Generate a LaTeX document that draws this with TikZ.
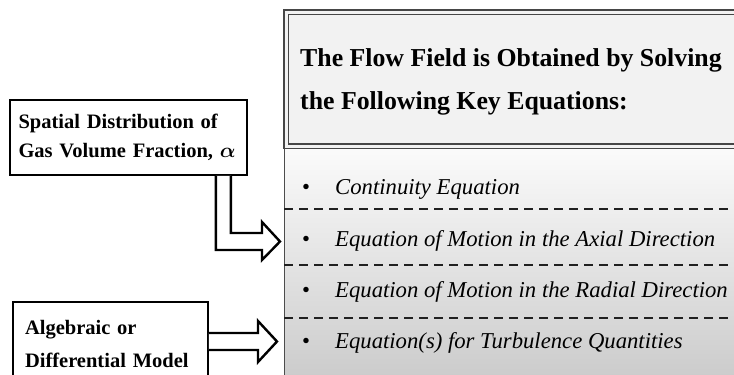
\documentclass[tikz,border=0pt]{standalone}
\usepackage{amsmath}
\usepackage{fontspec}
\setmainfont{Liberation Serif}
\usetikzlibrary{calc}

\tikzset{
  sidebox/.style={draw=black,line width=1.6pt,fill=white,align=left,inner sep=0pt},
  fatarrow/.style={draw=black,line width=2.4pt,fill=white,line join=miter},
  sepline/.style={gray!25!black,line width=2pt,dash pattern=on 9pt off 6pt},
  item/.style={anchor=west,inner sep=0pt,font=\fontsize{22.7}{24}\selectfont\itshape}
}

\begin{document}
\begin{tikzpicture}[x=1pt,y=-1pt]
  \useasboundingbox (0,0) rectangle (734,375);
  \clip (0,0) rectangle (734,375);
  % right column: equations (shaded) and heading (double frame)
  \node[draw=gray!60!black,line width=1.4pt,top color=gray!3,bottom color=gray!45,
        minimum width=480,minimum height=260,anchor=north west] (eqs) at (284,146) {};
  \node[draw=gray!55!black,double=gray!10,double distance=3pt,line width=1.3pt,
        fill=gray!10,minimum width=480,minimum height=134,anchor=north west] (head) at (285.5,11.5) {};
  \node[anchor=west,inner sep=0pt,align=left,font=\fontsize{25.8}{43}\selectfont\bfseries]
        (headtxt) at (300,81.5) {The Flow Field is Obtained by Solving\\the Following Key Equations:};
  % separators
  \foreach \y in {209,265,318}
    \draw[sepline] (eqs.west |- 0,\y) -- (734,\y);
  % list of equations
  \foreach \y/\txt [count=\n] in {189/Continuity Equation,
      241/Equation of Motion in the Axial Direction,
      292/Equation of Motion in the Radial Direction,
      343/Equation(s) for Turbulence Quantities}
    \node[item] (item\n) at (302,\y) {\makebox[33pt][l]{\upshape\textbullet}\txt};
  % input boxes
  \node[sidebox,minimum width=237,minimum height=75,text width=220,
        font=\fontsize{20.5}{29}\selectfont\bfseries] (spatial) at (128.5,137.5)
        {Spatial Distribution of\\Gas Volume Fraction, $\boldsymbol{\alpha}$};
  \node[sidebox,minimum width=195,minimum height=83,text width=171,
        font=\fontsize{20.5}{33}\selectfont\bfseries] (model) at (110.5,343.5)
        {Algebraic or\\Differential Model};
  % block arrows into the equations
  \coordinate (tipA) at ($(eqs.north west)+(-4,95.5)$);
  \coordinate (tipB) at ($(eqs.north west)+(-7,195.5)$);
  \draw[fatarrow] ([xshift=-32pt]spatial.south east) |- ($(tipA)+(-18,8.5)$)
    -- ++(0,10) -- (tipA) -- ++(-18,-19.5) -- ++(0,11) -| ([xshift=-17pt]spatial.south east);
  \draw[fatarrow] ($(model.east)+(0,-10.5)$) -- ($(tipB)+(-19,-8.5)$) -- ++(0,-12)
    -- (tipB) -- ++(-19,20.5) -- ++(0,-12) -- ($(model.east)+(0,6.5)$);
\end{tikzpicture}
\end{document}
